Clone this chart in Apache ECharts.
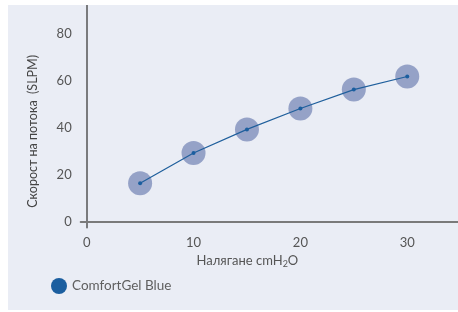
<!DOCTYPE html>
<html>
<head>
<meta charset="utf-8">
<script src="https://cdn.jsdelivr.net/npm/echarts@6/dist/echarts.min.js"></script>
<style>
  html, body { margin: 0; padding: 0; background: #ffffff; }
  #chart { position: absolute; left: 8px; top: 5px; width: 450px; height: 305px; }
</style>
</head>
<body>
<div id="chart"></div>
<script>
var pressure = [5, 10, 15, 20, 25, 30];
var flowRate = [16.3, 29.2, 39.3, 48.2, 56.3, 61.9];
var xTicks = [0, 10, 20, 30];
var yTicks = [0, 20, 40, 60, 80];
var seriesName = 'ComfortGel Blue';

function renderFlowChart(chartID) {
  var chartDom = document.getElementById(chartID);
  var myChart = echarts.init(chartDom);
  var points = pressure.map(function (p, i) { return [p, flowRate[i]]; });
  var font = 'Lato, "Noto Sans", sans-serif';

  var option = {
    backgroundColor: '#eaedf5',
    animation: false,
    textStyle: { fontFamily: font },
    grid: { left: 72.7, right: 0, top: 0, bottom: 82.3, outerBoundsMode: 'none' },
    legend: {
      left: 38,
      top: 268,
      icon: 'circle',
      itemWidth: 16,
      itemHeight: 16,
      data: [seriesName],
      textStyle: { color: '#5f5f5f', fontSize: 13.5, fontFamily: font }
    },
    xAxis: {
      type: 'value',
      min: -0.56,
      max: 34.75,
      name: 'Налягане cmH{sub|2}O',
      nameLocation: 'middle',
      nameGap: 24,
      nameTextStyle: {
        color: '#555',
        fontSize: 13,
        padding: [0, 44, 0, 0],
        rich: { sub: { fontSize: 9, verticalAlign: 'bottom', padding: [6, 0, 0, 0], color: '#555' } }
      },
      axisLine: { lineStyle: { color: '#7a7a7a', width: 2 } },
      axisTick: { show: false },
      splitLine: { show: false },
      axisLabel: { customValues: xTicks, color: '#555', fontSize: 13, margin: 9 }
    },
    yAxis: {
      type: 'value',
      min: -2.65,
      max: 92.4,
      name: 'Скорост на потока  (SLPM)',
      nameLocation: 'middle',
      nameGap: 41,
      nameTextStyle: { color: '#444', fontSize: 12.5, padding: [0, 30, 0, 0] },
      axisLine: { show: true, lineStyle: { color: '#555', width: 1.5 } },
      axisTick: { show: false },
      splitLine: { show: false },
      axisLabel: { customValues: yTicks, color: '#555', fontSize: 13, margin: 9 }
    },
    series: [
      {
        type: 'scatter',
        data: points,
        symbolSize: 24,
        itemStyle: { color: '#7f8fbb' },
        silent: true,
        z: 1
      },
      {
        name: seriesName,
        type: 'line',
        data: points,
        symbol: 'circle',
        symbolSize: 4,
        lineStyle: { color: '#1f5f9c', width: 1.2 },
        itemStyle: { color: '#1b5e9f' },
        z: 3
      }
    ]
  };

  option && myChart.setOption(option);
}

renderFlowChart('chart');
</script>
</body>
</html>
